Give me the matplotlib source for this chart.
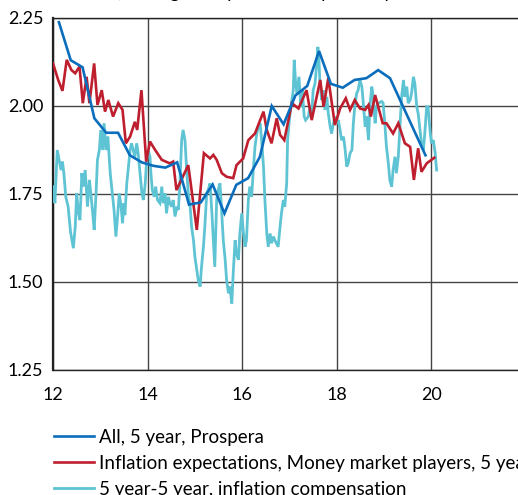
import matplotlib
matplotlib.use("Agg")
import matplotlib.pyplot as plt

# All, 5 year, Prospera (quarterly)
pros_x = [12.125, 12.375, 12.625, 12.875, 13.125, 13.375, 13.625, 13.875, 14.125, 14.375,
          14.625, 14.875, 15.125, 15.375, 15.625, 15.875, 16.125, 16.375, 16.625, 16.875,
          17.125, 17.375, 17.625, 17.875, 18.125, 18.375, 18.625, 18.875, 19.125, 19.875]
pros_y = [2.238, 2.13, 2.11, 1.965, 1.924, 1.924, 1.86, 1.84, 1.83, 1.825,
          1.84, 1.72, 1.726, 1.777, 1.695, 1.776, 1.795, 1.856, 2.0, 1.948,
          2.03, 2.057, 2.156, 2.063, 2.052, 2.074, 2.079, 2.102, 2.079, 1.86]

# Inflation expectations, Money market players, 5 year
mm_x = [12.0, 12.11, 12.2, 12.29, 12.39, 12.47, 12.56, 12.63, 12.71, 12.77, 12.87, 12.94,
        13.03, 13.1, 13.17, 13.27, 13.38, 13.47, 13.54, 13.63, 13.73, 13.78, 13.87, 13.97,
        14.05, 14.16, 14.3, 14.47, 14.54, 14.61, 14.86, 14.93, 15.04, 15.19, 15.32, 15.39,
        15.46, 15.57, 15.67, 15.81, 15.88, 16.02, 16.13, 16.27, 16.45, 16.52, 16.62, 16.73,
        16.8, 16.89, 17.05, 17.19, 17.36, 17.47, 17.65, 17.72, 17.82, 17.96, 18.07, 18.19,
        18.28, 18.38, 18.49, 18.6, 18.67, 18.72, 18.81, 18.97, 19.05, 19.19, 19.3, 19.44,
        19.55, 19.63, 19.72, 19.79, 19.9, 20.06]
mm_y = [2.121, 2.074, 2.043, 2.131, 2.102, 2.093, 2.112, 2.008, 2.083, 2.008, 2.121, 2.003,
        2.045, 1.984, 2.017, 1.97, 2.008, 1.989, 1.894, 1.913, 1.955, 1.932, 2.045, 1.842,
        1.899, 1.875, 1.847, 1.837, 1.842, 1.761, 1.832, 1.761, 1.648, 1.866, 1.851, 1.861,
        1.847, 1.809, 1.799, 1.795, 1.832, 1.851, 1.903, 1.922, 1.984, 1.932, 1.894, 1.965,
        1.918, 1.903, 2.008, 1.993, 2.045, 1.96, 2.074, 1.998, 2.079, 1.946, 1.993, 2.022,
        1.989, 2.017, 1.993, 1.989, 2.003, 1.97, 2.031, 1.951, 1.951, 1.922, 1.951, 1.894,
        1.884, 1.79, 1.88, 1.813, 1.837, 1.853]

# 5 year-5 year, inflation compensation
ic_x = [12.01, 12.04, 12.09, 12.13, 12.17, 12.2, 12.23, 12.27, 12.32, 12.37, 12.43, 12.47,
        12.5, 12.54, 12.57, 12.61, 12.64, 12.68, 12.73, 12.77, 12.8, 12.84, 12.87, 12.91,
        12.94, 12.98, 13.01, 13.05, 13.08, 13.12, 13.16, 13.21, 13.24, 13.29, 13.33, 13.37,
        13.4, 13.44, 13.47, 13.5, 13.52, 13.56, 13.63, 13.66, 13.73, 13.77, 13.8, 13.84,
        13.88, 13.91, 13.95, 13.98, 14.01, 14.05, 14.07, 14.1, 14.14, 14.17, 14.21, 14.26,
        14.3, 14.33, 14.37, 14.4, 14.44, 14.47, 14.51, 14.54, 14.58, 14.62, 14.65, 14.68,
        14.72, 14.75, 14.79, 14.83, 14.86, 14.9, 14.93, 14.97, 15.0, 15.04, 15.07, 15.11,
        15.14, 15.18, 15.21, 15.25, 15.28, 15.32, 15.36, 15.39, 15.42, 15.46, 15.49, 15.53,
        15.56, 15.6, 15.64, 15.67, 15.71, 15.74, 15.78, 15.81, 15.85, 15.88, 15.92, 15.95,
        15.99, 16.02, 16.06, 16.09, 16.13, 16.16, 16.2, 16.23, 16.27, 16.31, 16.34, 16.38,
        16.41, 16.45, 16.48, 16.52, 16.55, 16.59, 16.62, 16.66, 16.69, 16.76, 16.8, 16.83,
        16.87, 16.9, 16.94, 16.96, 16.99, 17.03, 17.08, 17.1, 17.13, 17.16, 17.2, 17.24,
        17.27, 17.31, 17.34, 17.4, 17.43, 17.47, 17.5, 17.54, 17.57, 17.6, 17.62, 17.64,
        17.68, 17.71, 17.75, 17.79, 17.82, 17.86, 17.89, 17.93, 17.96, 18.0, 18.03, 18.07,
        18.1, 18.14, 18.17, 18.21, 18.24, 18.28, 18.32, 18.35, 18.38, 18.42, 18.45, 18.49,
        18.53, 18.56, 18.6, 18.63, 18.67, 18.7, 18.74, 18.77, 18.81, 18.84, 18.88, 18.95,
        18.98, 19.02, 19.05, 19.09, 19.12, 19.16, 19.19, 19.23, 19.26, 19.3, 19.34, 19.37,
        19.41, 19.44, 19.48, 19.51, 19.55, 19.58, 19.62, 19.65, 19.69, 19.72, 19.76, 19.79,
        19.83, 19.86, 19.9, 19.93, 19.97, 20.0, 20.04, 20.08, 20.11]
ic_y = [1.771, 1.724, 1.875, 1.847, 1.818, 1.842, 1.809, 1.742, 1.714, 1.643, 1.596, 1.657,
        1.752, 1.695, 1.676, 1.809, 1.771, 1.818, 1.714, 1.79, 1.752, 1.695, 1.648, 1.752,
        1.847, 1.875, 1.932, 1.875, 1.951, 1.875, 1.913, 1.809, 1.771, 1.705, 1.629, 1.695,
        1.752, 1.714, 1.667, 1.724, 1.69, 1.78, 1.875, 1.894, 1.856, 1.894, 1.866, 1.809,
        1.752, 1.733, 1.78, 1.847, 1.875, 1.856, 1.809, 1.761, 1.742, 1.771, 1.733, 1.724,
        1.771, 1.724, 1.752, 1.695, 1.742, 1.724, 1.714, 1.733, 1.686, 1.714, 1.705, 1.771,
        1.903, 1.932, 1.903, 1.809, 1.752, 1.714, 1.657, 1.619, 1.572, 1.534, 1.506, 1.487,
        1.543, 1.6, 1.657, 1.752, 1.761, 1.78, 1.695, 1.619, 1.543, 1.733, 1.761, 1.78,
        1.714, 1.619, 1.563, 1.506, 1.468, 1.487, 1.439, 1.525, 1.619, 1.581, 1.563, 1.638,
        1.695, 1.648, 1.6, 1.619, 1.733, 1.771, 1.742, 1.809, 1.884, 1.922, 1.941, 1.951,
        1.903, 1.828, 1.733, 1.638, 1.6, 1.638, 1.61, 1.629, 1.619, 1.6, 1.657, 1.695,
        1.733, 1.714, 1.78, 1.903, 1.951, 1.998, 2.045, 2.131, 2.064, 2.036, 2.083, 1.998,
        2.045, 1.97, 1.96, 1.97, 1.998, 1.979, 2.045, 2.064, 2.112, 2.168, 2.14, 2.074,
        2.017, 2.045, 1.989, 2.026, 1.979, 1.941, 1.922, 1.951, 1.97, 1.951, 1.96, 1.932,
        1.903, 1.913, 1.884, 1.828, 1.837, 1.866, 1.875, 1.951, 1.998, 2.036, 2.045, 2.074,
        2.055, 2.008, 1.941, 1.97, 1.903, 1.998, 2.055, 2.026, 1.951, 1.998, 2.008, 2.013,
        2.008, 1.941, 1.884, 1.837, 1.79, 1.771, 1.818, 1.856, 1.809, 1.856, 1.951, 2.026,
        2.074, 2.026, 2.055, 2.008, 2.017, 2.036, 2.083, 2.064, 1.998, 1.979, 1.932, 1.894,
        1.875, 1.922, 1.998, 1.998, 1.932, 1.894, 1.903, 1.866, 1.818]

x_ticks = [12, 14, 16, 18, 20]
y_ticks = [1.25, 1.50, 1.75, 2.00, 2.25]
labels = ["All, 5 year, Prospera",
          "Inflation expectations, Money market players, 5 year",
          "5 year-5 year, inflation compensation"]
title = "Per cent, average and per cent respectively"

plt.rcParams['font.family'] = ['Lato', 'DejaVu Sans']
W, H = 518, 495
fig = plt.figure(figsize=(W / 100, H / 100), dpi=100)
ax = fig.add_axes([53 / W, (H - 370) / H, 473 / W, 352 / H])

c_blue, c_red, c_cyan = '#0a6ebd', '#be1e2d', '#5ec4d4'
l3, = ax.plot(ic_x, ic_y, color=c_cyan, lw=2.0, solid_joinstyle='miter', zorder=3)
l2, = ax.plot(mm_x, mm_y, color=c_red, lw=1.9, solid_joinstyle='miter', zorder=4)
l1, = ax.plot(pros_x, pros_y, color=c_blue, lw=1.9, solid_joinstyle='miter', zorder=5)

ax.set_xlim(12, 22)
ax.set_ylim(1.25, 2.25)
ax.set_xticks(x_ticks)
ax.set_yticks(y_ticks)
ax.set_yticklabels([f"{v:.2f}" for v in y_ticks])
ax.tick_params(length=0, labelsize=13, colors='black')
ax.tick_params(axis='x', pad=12)
ax.tick_params(axis='y', pad=7)
ax.grid(True, color='#444444', lw=1.0, zorder=1)
for s in ax.spines.values():
    s.set_color('#222222')
    s.set_linewidth(1.0)
ax.spines['left'].set_linewidth(1.6)

fig.text(52 / W, 1 + 7 / H, title, fontsize=13, va='center', ha='left')

fig.legend([l1, l2, l3], labels, loc='upper left', bbox_to_anchor=(54 / W, (H - 429) / H),
           frameon=False, fontsize=13.5, handlelength=2.13, handletextpad=0.27,
           labelspacing=0.47, borderaxespad=0, borderpad=0)

fig.savefig("out.png", dpi=100)
